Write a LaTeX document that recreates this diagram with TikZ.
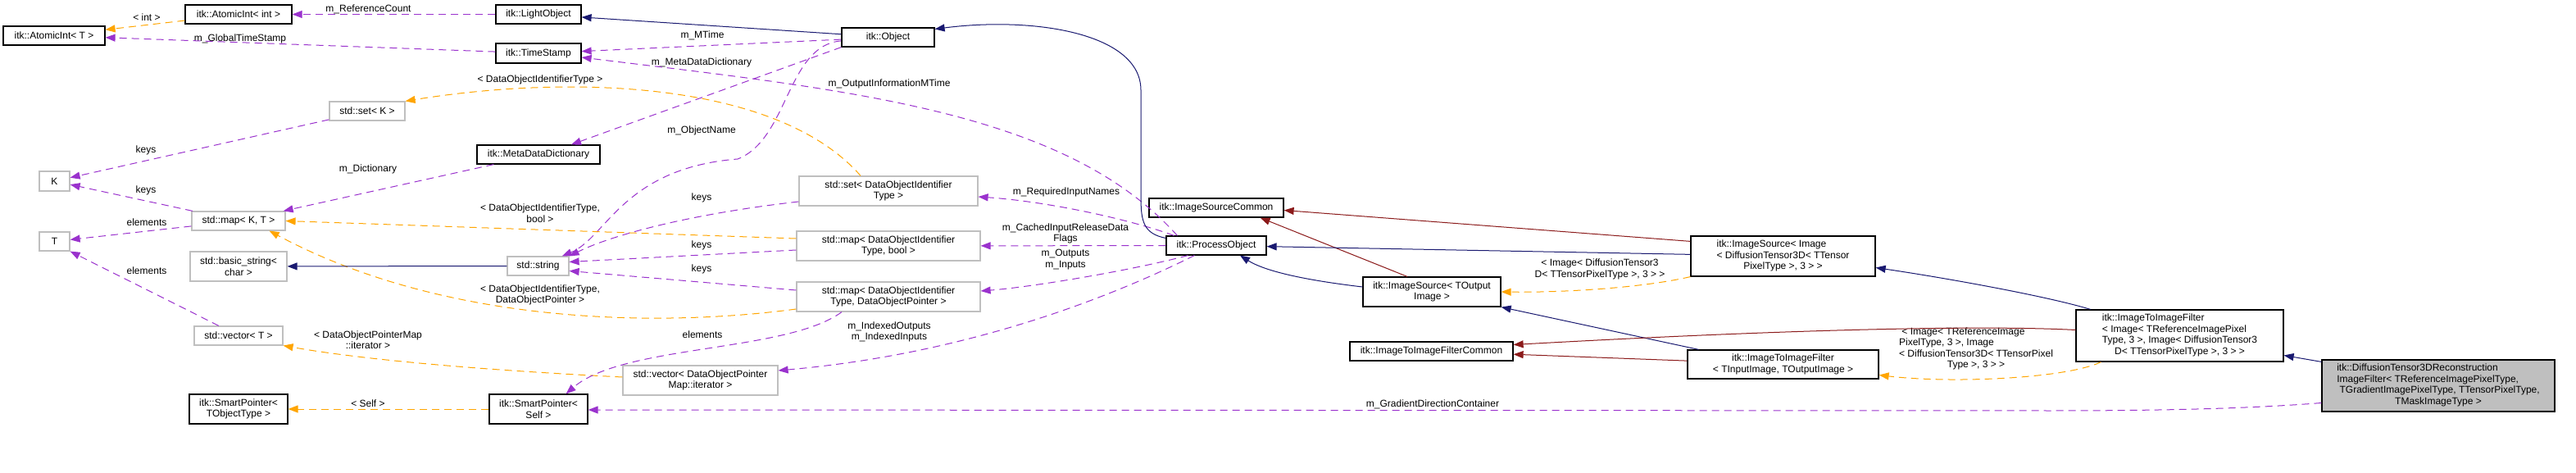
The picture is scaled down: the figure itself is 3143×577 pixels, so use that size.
\documentclass[tikz,border=0pt]{standalone}
\usepackage{fontspec}
\setmainfont{Liberation Sans}
\usetikzlibrary{arrows.meta}

\definecolor{inhblue}{HTML}{191970}
\definecolor{privred}{HTML}{8B1A1A}
\definecolor{usepurple}{HTML}{9A32CD}
\definecolor{tplorange}{HTML}{FFA500}
\definecolor{boxgray}{HTML}{BFBFBF}

% left lines, last line centred
\newcommand{\dlines}[1]{\begin{tabular}{@{}l@{}}#1\end{tabular}}
\newcommand{\clast}[1]{\multicolumn{1}{@{}c@{}}{#1}}

\begin{document}
\begin{tikzpicture}[x=1pt, y=-1pt,
    font=\fontsize{12}{13.5}\selectfont,
    cls/.style={draw=black, line width=1.2pt, fill=white, inner sep=0pt, align=center},
    extcls/.style={draw=boxgray, line width=1.2pt, fill=white, inner sep=0pt, align=center},
    lbl/.style={inner sep=0pt, align=center},
    arrowtip/.style={-{Triangle[length=12pt, width=9pt]}},
    pubinh/.style={arrowtip, draw=inhblue, line width=1pt},
    privinh/.style={arrowtip, draw=privred, line width=1pt},
    usage/.style={arrowtip, draw=usepurple, line width=1pt, dash pattern=on 9pt off 6pt},
    tmpl/.style={arrowtip, draw=tplorange, line width=1pt, dash pattern=on 9pt off 6pt}]

\useasboundingbox (0,0) rectangle (3143,577);

% --- Classes ---
\node[cls, minimum width=124, minimum height=23] (atomT) at (66,43.5) {itk::AtomicInt< T >};
\node[cls, minimum width=130, minimum height=23] (atomInt) at (291,17.5) {itk::AtomicInt< int >};
\node[cls, minimum width=104, minimum height=23] (light) at (657,17.5) {itk::LightObject};
\node[cls, minimum width=104, minimum height=24] (stamp) at (657,65) {itk::TimeStamp};
\node[cls, minimum width=113, minimum height=23] (obj) at (1083.5,45.5) {itk::Object};
\node[cls, minimum width=150, minimum height=23] (mdd) at (657,188.5) {itk::MetaDataDictionary};
\node[extcls, minimum width=92, minimum height=23] (setK) at (448,135.5) {std::set< K >};
\node[extcls, minimum width=37, minimum height=24] (K) at (66.5,221) {K};
\node[extcls, minimum width=114, minimum height=23] (mapKT) at (291,269.5) {std::map< K, T >};
\node[extcls, minimum width=37, minimum height=23] (T) at (66.5,294.5) {T};
\node[extcls, minimum width=118, minimum height=36] (bstr) at (291,325) {std::basic\_string<\\char >};
\node[extcls, minimum width=108, minimum height=23] (vecT) at (291,409.5) {std::vector< T >};
\node[cls, minimum width=120, minimum height=36] (spT) at (291,499) {itk::SmartPointer<\\TObjectType >};
\node[cls, minimum width=120, minimum height=36] (spSelf) at (657,499) {itk::SmartPointer<\\Self >};
\node[extcls, minimum width=75, minimum height=23] (str) at (656.5,324.5) {std::string};
\node[extcls, minimum width=189, minimum height=36] (vecIt) at (854.5,464) {std::vector< DataObjectPointer\\Map::iterator >};
\node[extcls, minimum width=218, minimum height=36] (setId) at (1084,233) {std::set< DataObjectIdentifier\\Type >};
\node[extcls, minimum width=224, minimum height=36] (mapBool) at (1084,300) {std::map< DataObjectIdentifier\\Type, bool >};
\node[extcls, minimum width=224, minimum height=36] (mapPtr) at (1084,362) {std::map< DataObjectIdentifier\\Type, DataObjectPointer >};
\node[cls, minimum width=164, minimum height=23] (isc) at (1484,253.5) {itk::ImageSourceCommon};
\node[cls, minimum width=122, minimum height=23] (po) at (1484,299.5) {itk::ProcessObject};
\node[cls, minimum width=168, minimum height=36] (isOut) at (1747,356) {itk::ImageSource< TOutput\\Image >};
\node[cls, minimum width=199, minimum height=23] (i2ifc) at (1746.5,428.5) {itk::ImageToImageFilterCommon};
\node[cls, minimum width=225, minimum height=49] (isImg) at (2175.5,312.5) {\dlines{itk::ImageSource< Image\\< DiffusionTensor3D< TTensor\\\clast{PixelType >, 3 > >}}};
\node[cls, minimum width=233, minimum height=35] (i2if) at (2175.5,444.5) {itk::ImageToImageFilter\\< TInputImage, TOutputImage >};
\node[cls, minimum width=253, minimum height=63] (i2ifImg) at (2659.5,409.5) {\dlines{itk::ImageToImageFilter\\< Image< TReferenceImagePixel\\Type, 3 >, Image< DiffusionTensor3\\\clast{D< TTensorPixelType >, 3 > >}}};
\node[cls, fill=boxgray, minimum width=284, minimum height=63] (main) at (2975,470.5) {\dlines{itk::DiffusionTensor3DReconstruction\\ImageFilter< TReferenceImagePixelType,\\{\ }TGradientImagePixelType, TTensorPixelType,\\\clast{TMaskImageType >}}};

% --- Edge labels ---
\node[lbl] (lInt) at (179,21) {< int >};
\node[lbl] (lRef) at (449.5,11) {m\_ReferenceCount};
\node[lbl] (lGlobal) at (293,47) {m\_GlobalTimeStamp};
\node[lbl] (lMTime) at (857,43) {m\_MTime};
\node[lbl] (lMeta) at (856,76) {m\_MetaDataDictionary};
\node[lbl] (lDOIT) at (659,97) {< DataObjectIdentifierType >};
\node[lbl] (lName) at (856,159) {m\_ObjectName};
\node[lbl] (lOutInfo) at (1085,102) {m\_OutputInformationMTime};
\node[lbl] (lKeys1) at (178,183) {keys};
\node[lbl] (lKeys2) at (178,232) {keys};
\node[lbl] (lElem1) at (179,271) {elements};
\node[lbl] (lElem2) at (179,330) {elements};
\node[lbl] (lDict) at (449,206) {m\_Dictionary};
\node[lbl] (lKeys3) at (856,241) {keys};
\node[lbl] (lKeys4) at (856,299) {keys};
\node[lbl] (lKeys5) at (856,328) {keys};
\node[lbl] (lBool) at (659,260) {< DataObjectIdentifierType,\\bool >};
\node[lbl] (lPtr) at (659,360) {< DataObjectIdentifierType,\\DataObjectPointer >};
\node[lbl] (lIter) at (449,414.5) {< DataObjectPointerMap\\::iterator >};
\node[lbl] (lSelf) at (449,492) {< Self >};
\node[lbl] (lElem3) at (857,408) {elements};
\node[lbl] (lReq) at (1301,234) {m\_RequiredInputNames};
\node[lbl] (lCached) at (1300,285) {m\_CachedInputReleaseData\\Flags};
\node[lbl] (lInOut) at (1300,316.5) {m\_Outputs\\m\_Inputs};
\node[lbl] (lIndexed) at (1085,405) {m\_IndexedOutputs\\m\_IndexedInputs};
\node[lbl] (lGrad) at (1748,493) {m\_GradientDirectionContainer};
\node[lbl] (lDT) at (1952,328.5) {< Image< DiffusionTensor3\\D< TTensorPixelType >, 3 > >};
\node[lbl] (lRefImg) at (2411,426) {\dlines{{\ }< Image< TReferenceImage\\PixelType, 3 >, Image\\< DiffusionTensor3D< TTensorPixel\\\clast{Type >, 3 > >}}};

% --- Edges ---
\draw[tmpl] (atomInt) -- (atomT);
\draw[usage] (light) -- (atomInt);
\draw[usage] (stamp) -- (atomT);
\draw[pubinh] (obj) -- (light);
\draw[usage] (obj) -- (stamp);
\draw[usage] ([xshift=14]po.north west) .. controls (1300,135) and (1037,110) .. ([yshift=-5]stamp.east);
\draw[usage] (obj.south west) -- ([xshift=40]mdd.north);
\draw[usage] (obj) .. controls (960,55) and (962,170) .. (900,194) .. controls (760,205) and (740,290) .. (str);
\draw[usage] (mdd) -- (mapKT);
\draw[usage] (setK) -- (K);
\draw[usage] (mapKT) -- (K);
\draw[usage] (mapKT) -- (T);
\draw[usage] (vecT) -- (T.south east);
\draw[tmpl] ([xshift=-34]setId.north) .. controls (950,100) and (700,90) .. (setK.north east);
\draw[tmpl] ([yshift=9]mapBool.west) -- (mapKT.east);
\draw[tmpl] ([yshift=-15]mapPtr.west) .. controls (800,400) and (540,395) .. ([xshift=-20]mapKT.south east);
\draw[pubinh] (str) -- (bstr);
\draw[usage] ([yshift=-13]setId.west) .. controls (850,260) and (750,285) .. (str.north east);
\draw[usage] ([yshift=-5]mapBool.west) -- ([yshift=5]str.east);
\draw[usage] ([yshift=8]mapPtr.west) -- ([yshift=-6]str.east);
\draw[tmpl] ([yshift=4]vecIt.west) .. controls (600,452) and (450,440) .. (vecT.south east);
\draw[tmpl] (spSelf) -- (spT);
\draw[usage] ([xshift=-57]mapPtr.south) .. controls (960,430) and (760,420) .. ([xshift=-27]spSelf.north east);
\draw[usage] ([xshift=10]po.north west) .. controls (1380,268) and (1280,246) .. ([yshift=-7]setId.east);
\draw[usage] (po) -- (mapBool);
\draw[usage] ([xshift=27]po.south west) .. controls (1380,330) and (1260,350) .. ([yshift=7]mapPtr.east);
\draw[usage] ([xshift=35]po.south west) .. controls (1380,350) and (1200,430) .. ([yshift=12]vecIt.east);
\draw[pubinh] ([yshift=9]po.west) .. controls (1395,285) and (1392,270) .. (1392,240) -- (1392,110) .. controls (1392,40) and (1260,20) .. ([yshift=10]obj.east);
\draw[privinh] ([yshift=-7]isImg.north west) -- ([yshift=-3]isc.east);
\draw[privinh] ([xshift=-30]isOut.north) -- ([xshift=-29]isc.south east);
\draw[pubinh] ([yshift=6]isOut.west) .. controls (1620,345) and (1550,335) .. ([xshift=29]po.south);
\draw[pubinh] (isImg) -- (po);
\draw[tmpl] (isImg.south west) .. controls (2000,352) and (1900,357) .. (isOut.east);
\draw[pubinh] ([xshift=-103]i2if.north) -- (isOut.south east);
\draw[privinh] (i2if) -- (i2ifc);
\draw[privinh] ([yshift=7]i2ifImg.west) .. controls (2450,398) and (2250,398) .. ([yshift=8]i2ifc.east);
\draw[pubinh] ([xshift=-109]i2ifImg.north) .. controls (2500,362) and (2380,340) .. ([yshift=-14]isImg.east);
\draw[tmpl] ([xshift=-96]i2ifImg.south) .. controls (2520,462) and (2380,468) .. ([yshift=-13]i2if.east);
\draw[pubinh] ([yshift=-3]main.north west) -- ([yshift=-24]i2ifImg.east);
\draw[usage] ([yshift=-21]main.west) .. controls (2750,498) and (2650,501) .. (2500,501) -- ([yshift=-1]spSelf.east);

\end{tikzpicture}
\end{document}
